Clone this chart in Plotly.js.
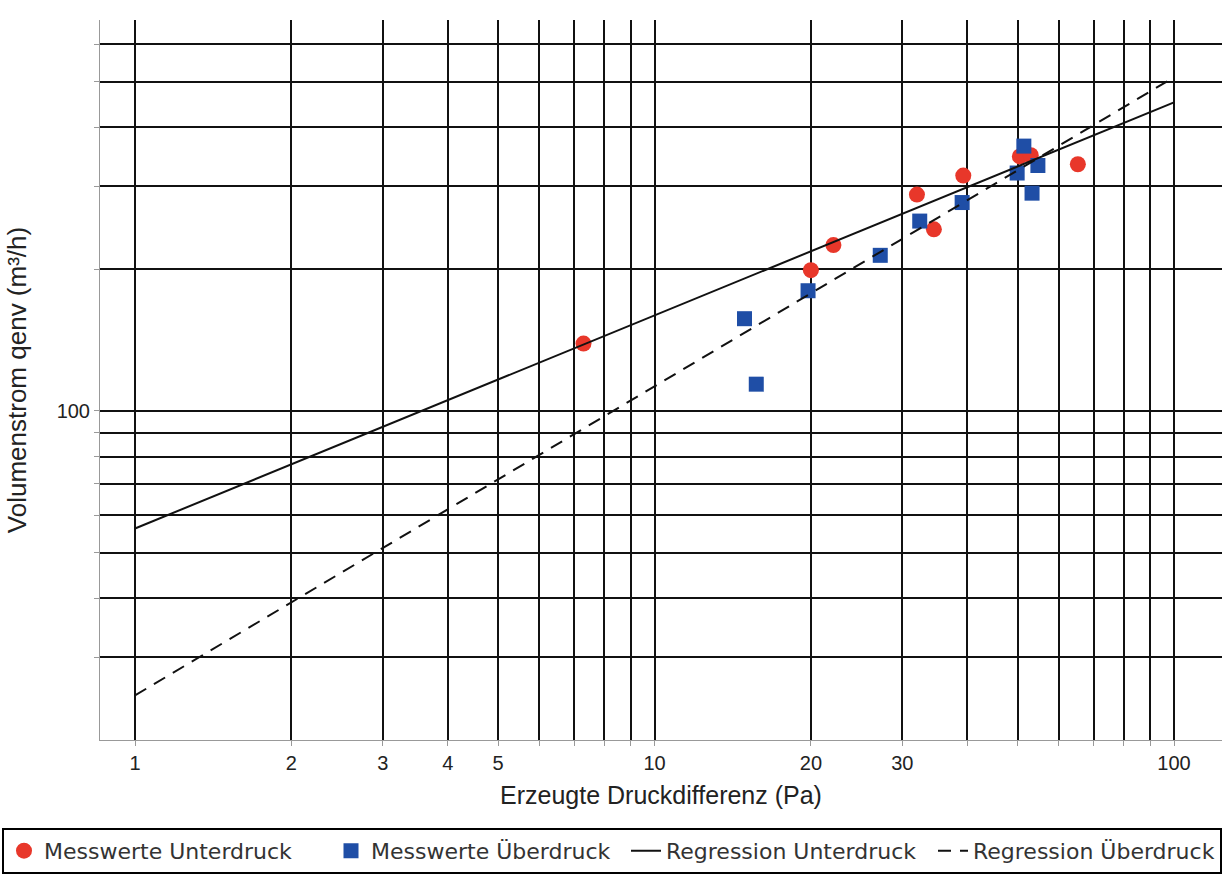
<!DOCTYPE html>
<html><head><meta charset="utf-8">
<script src="https://cdn.plot.ly/plotly-3.0.1.min.js"></script>
<style>html,body{margin:0;padding:0;background:#fff;} #chart{width:1222px;height:880px;}</style>
</head><body><div id="chart"></div>
<script>
// Messwerte Unterdruck (red circles)
const unterX = [7.3, 20.0, 22.1, 32.0, 34.5, 39.3, 50.5, 53.0, 65.3];
const unterY = [139, 199, 225, 288, 243, 316, 347, 349, 334];
// Messwerte Überdruck (blue squares)
const ueberX = [14.9, 15.7, 19.75, 27.2, 32.4, 39.1, 49.9, 51.4, 53.3, 54.7];
const ueberY = [157, 114, 180, 214, 253, 277, 320, 365, 290, 332];
// Regression lines (end points)
const regX = [1, 100];
const regUnterY = [56.3, 452];
const regUeberY = [24.9, 511];
// Ticks
const xTickVals = [1,2,3,4,5,6,7,8,9,10,20,30,40,50,60,70,80,90,100];
const xTickText = ['1','2','3','4','5','','','','','10','20','30','','','','','','','100'];
const yTickVals = [30,40,50,60,70,80,90,100,200,300,400,500,600];
const yTickText = ['','','','','','','','100','','','','',''];
const seriesNames = ['Messwerte Unterdruck','Messwerte Überdruck','Regression Unterdruck','Regression Überdruck'];

const axisFont = {family: 'Liberation Sans, Arial, sans-serif', size: 20, color: '#222'};
const titleFont = {family: 'Liberation Sans, Arial, sans-serif', size: 25, color: '#222'};
const traces = [
  {x: unterX, y: unterY, name: seriesNames[0], type: 'scatter', mode: 'markers', legendwidth: 282,
   marker: {symbol: 'circle', size: 16, color: '#e8372a'}},
  {x: ueberX, y: ueberY, name: seriesNames[1], type: 'scatter', mode: 'markers', legendwidth: 250,
   marker: {symbol: 'square', size: 15, color: '#1f4ea6'}},
  {x: regX, y: regUnterY, name: seriesNames[2], type: 'scatter', mode: 'lines', legendwidth: 262,
   line: {color: '#111', width: 2}},
  {x: regX, y: regUeberY, name: seriesNames[3], type: 'scatter', mode: 'lines',
   line: {color: '#111', width: 2, dash: '13px,9px'}}
];
const layout = {
  width: 1222, height: 880,
  margin: {l: 100, r: 0, t: 20, b: 140},
  paper_bgcolor: '#fff', plot_bgcolor: '#fff',
  showlegend: true,
  legend: {orientation: 'h', x: -0.0873, xanchor: 'left', y: -0.122, yanchor: 'top',
    bordercolor: '#000', borderwidth: 2, bgcolor: '#fff',
    font: {family: 'DejaVu Sans, Verdana, sans-serif', size: 22, color: '#333'}},
  xaxis: {type: 'log', range: [-0.0674, 2.0924], tickvals: xTickVals, ticktext: xTickText,
    showgrid: true, gridcolor: '#111', gridwidth: 2, zeroline: false,
    showline: true, linecolor: '#999', linewidth: 1, ticks: 'outside', ticklen: 5, tickcolor: '#999',
    tickfont: axisFont,
    title: {text: 'Erzeugte Druckdifferenz (Pa)', font: titleFont, standoff: 13}},
  yaxis: {type: 'log', range: [1.3015, 2.830], tickvals: yTickVals, ticktext: yTickText,
    showgrid: true, gridcolor: '#111', gridwidth: 2, zeroline: false,
    showline: true, linecolor: '#999', linewidth: 1, ticks: 'outside', ticklen: 5, tickcolor: '#999',
    tickfont: axisFont,
    title: {text: 'Volumenstrom qenv (m³/h)', font: {family: 'Liberation Sans, Arial, sans-serif', size: 26, color: '#222'}, standoff: 22}}
};
Plotly.newPlot('chart', traces, layout, {displayModeBar: false, staticPlot: true});
</script>
</body></html>
